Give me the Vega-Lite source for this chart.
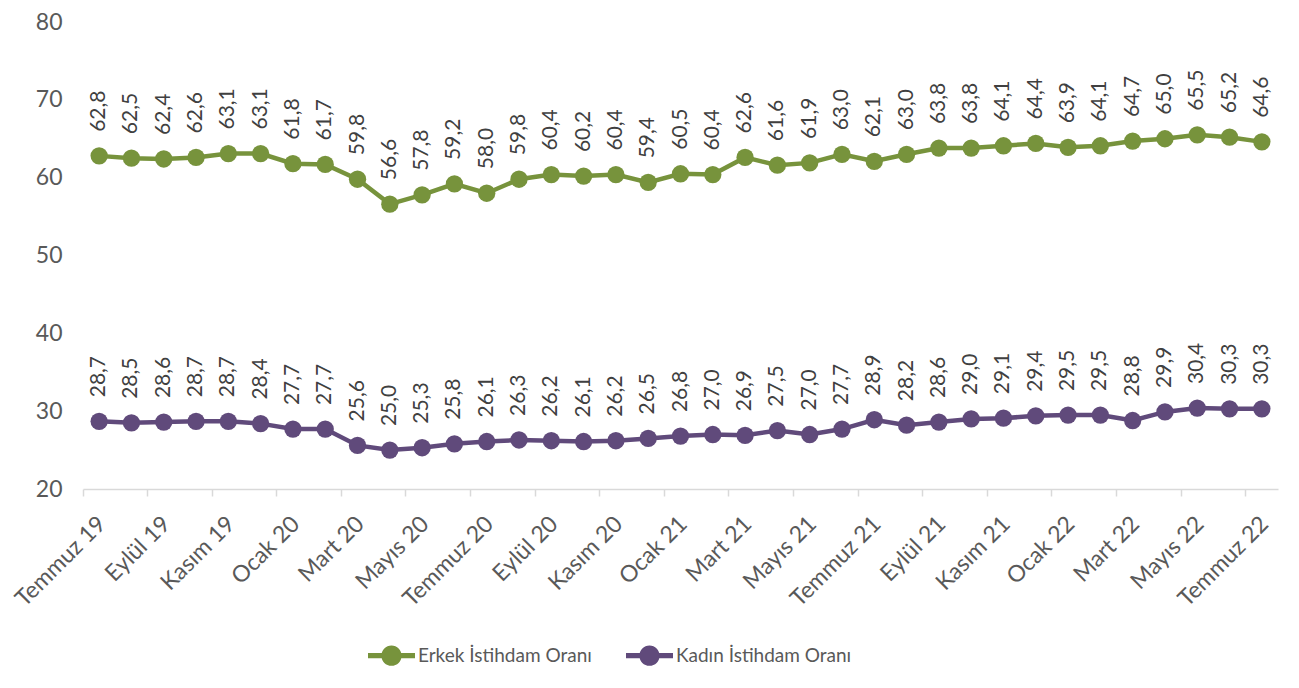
{
  "$schema": "https://vega.github.io/schema/vega-lite/v6.json",
  "width": 1195,
  "height": 467,
  "autosize": {"type": "none"},
  "padding": {"left": 83, "top": 22, "right": 21, "bottom": 199},
  "background": "white",
  "config": {
    "view": {"stroke": null},
    "font": "Lato",
    "locale": {"number": {"decimal": ",", "thousands": ".", "grouping": [3], "currency": ["", " TL"]}}
  },
  "datasets": {
    "rows": [
      {"ay": "Temmuz 19", "seri": "Erkek İstihdam Oranı", "oran": 62.8},
      {"ay": "Ağustos 19", "seri": "Erkek İstihdam Oranı", "oran": 62.5},
      {"ay": "Eylül 19", "seri": "Erkek İstihdam Oranı", "oran": 62.4},
      {"ay": "Ekim 19", "seri": "Erkek İstihdam Oranı", "oran": 62.6},
      {"ay": "Kasım 19", "seri": "Erkek İstihdam Oranı", "oran": 63.1},
      {"ay": "Aralık 19", "seri": "Erkek İstihdam Oranı", "oran": 63.1},
      {"ay": "Ocak 20", "seri": "Erkek İstihdam Oranı", "oran": 61.8},
      {"ay": "Şubat 20", "seri": "Erkek İstihdam Oranı", "oran": 61.7},
      {"ay": "Mart 20", "seri": "Erkek İstihdam Oranı", "oran": 59.8},
      {"ay": "Nisan 20", "seri": "Erkek İstihdam Oranı", "oran": 56.6},
      {"ay": "Mayıs 20", "seri": "Erkek İstihdam Oranı", "oran": 57.8},
      {"ay": "Haziran 20", "seri": "Erkek İstihdam Oranı", "oran": 59.2},
      {"ay": "Temmuz 20", "seri": "Erkek İstihdam Oranı", "oran": 58.0},
      {"ay": "Ağustos 20", "seri": "Erkek İstihdam Oranı", "oran": 59.8},
      {"ay": "Eylül 20", "seri": "Erkek İstihdam Oranı", "oran": 60.4},
      {"ay": "Ekim 20", "seri": "Erkek İstihdam Oranı", "oran": 60.2},
      {"ay": "Kasım 20", "seri": "Erkek İstihdam Oranı", "oran": 60.4},
      {"ay": "Aralık 20", "seri": "Erkek İstihdam Oranı", "oran": 59.4},
      {"ay": "Ocak 21", "seri": "Erkek İstihdam Oranı", "oran": 60.5},
      {"ay": "Şubat 21", "seri": "Erkek İstihdam Oranı", "oran": 60.4},
      {"ay": "Mart 21", "seri": "Erkek İstihdam Oranı", "oran": 62.6},
      {"ay": "Nisan 21", "seri": "Erkek İstihdam Oranı", "oran": 61.6},
      {"ay": "Mayıs 21", "seri": "Erkek İstihdam Oranı", "oran": 61.9},
      {"ay": "Haziran 21", "seri": "Erkek İstihdam Oranı", "oran": 63.0},
      {"ay": "Temmuz 21", "seri": "Erkek İstihdam Oranı", "oran": 62.1},
      {"ay": "Ağustos 21", "seri": "Erkek İstihdam Oranı", "oran": 63.0},
      {"ay": "Eylül 21", "seri": "Erkek İstihdam Oranı", "oran": 63.8},
      {"ay": "Ekim 21", "seri": "Erkek İstihdam Oranı", "oran": 63.8},
      {"ay": "Kasım 21", "seri": "Erkek İstihdam Oranı", "oran": 64.1},
      {"ay": "Aralık 21", "seri": "Erkek İstihdam Oranı", "oran": 64.4},
      {"ay": "Ocak 22", "seri": "Erkek İstihdam Oranı", "oran": 63.9},
      {"ay": "Şubat 22", "seri": "Erkek İstihdam Oranı", "oran": 64.1},
      {"ay": "Mart 22", "seri": "Erkek İstihdam Oranı", "oran": 64.7},
      {"ay": "Nisan 22", "seri": "Erkek İstihdam Oranı", "oran": 65.0},
      {"ay": "Mayıs 22", "seri": "Erkek İstihdam Oranı", "oran": 65.5},
      {"ay": "Haziran 22", "seri": "Erkek İstihdam Oranı", "oran": 65.2},
      {"ay": "Temmuz 22", "seri": "Erkek İstihdam Oranı", "oran": 64.6},
      {"ay": "Temmuz 19", "seri": "Kadın İstihdam Oranı", "oran": 28.7},
      {"ay": "Ağustos 19", "seri": "Kadın İstihdam Oranı", "oran": 28.5},
      {"ay": "Eylül 19", "seri": "Kadın İstihdam Oranı", "oran": 28.6},
      {"ay": "Ekim 19", "seri": "Kadın İstihdam Oranı", "oran": 28.7},
      {"ay": "Kasım 19", "seri": "Kadın İstihdam Oranı", "oran": 28.7},
      {"ay": "Aralık 19", "seri": "Kadın İstihdam Oranı", "oran": 28.4},
      {"ay": "Ocak 20", "seri": "Kadın İstihdam Oranı", "oran": 27.7},
      {"ay": "Şubat 20", "seri": "Kadın İstihdam Oranı", "oran": 27.7},
      {"ay": "Mart 20", "seri": "Kadın İstihdam Oranı", "oran": 25.6},
      {"ay": "Nisan 20", "seri": "Kadın İstihdam Oranı", "oran": 25.0},
      {"ay": "Mayıs 20", "seri": "Kadın İstihdam Oranı", "oran": 25.3},
      {"ay": "Haziran 20", "seri": "Kadın İstihdam Oranı", "oran": 25.8},
      {"ay": "Temmuz 20", "seri": "Kadın İstihdam Oranı", "oran": 26.1},
      {"ay": "Ağustos 20", "seri": "Kadın İstihdam Oranı", "oran": 26.3},
      {"ay": "Eylül 20", "seri": "Kadın İstihdam Oranı", "oran": 26.2},
      {"ay": "Ekim 20", "seri": "Kadın İstihdam Oranı", "oran": 26.1},
      {"ay": "Kasım 20", "seri": "Kadın İstihdam Oranı", "oran": 26.2},
      {"ay": "Aralık 20", "seri": "Kadın İstihdam Oranı", "oran": 26.5},
      {"ay": "Ocak 21", "seri": "Kadın İstihdam Oranı", "oran": 26.8},
      {"ay": "Şubat 21", "seri": "Kadın İstihdam Oranı", "oran": 27.0},
      {"ay": "Mart 21", "seri": "Kadın İstihdam Oranı", "oran": 26.9},
      {"ay": "Nisan 21", "seri": "Kadın İstihdam Oranı", "oran": 27.5},
      {"ay": "Mayıs 21", "seri": "Kadın İstihdam Oranı", "oran": 27.0},
      {"ay": "Haziran 21", "seri": "Kadın İstihdam Oranı", "oran": 27.7},
      {"ay": "Temmuz 21", "seri": "Kadın İstihdam Oranı", "oran": 28.9},
      {"ay": "Ağustos 21", "seri": "Kadın İstihdam Oranı", "oran": 28.2},
      {"ay": "Eylül 21", "seri": "Kadın İstihdam Oranı", "oran": 28.6},
      {"ay": "Ekim 21", "seri": "Kadın İstihdam Oranı", "oran": 29.0},
      {"ay": "Kasım 21", "seri": "Kadın İstihdam Oranı", "oran": 29.1},
      {"ay": "Aralık 21", "seri": "Kadın İstihdam Oranı", "oran": 29.4},
      {"ay": "Ocak 22", "seri": "Kadın İstihdam Oranı", "oran": 29.5},
      {"ay": "Şubat 22", "seri": "Kadın İstihdam Oranı", "oran": 29.5},
      {"ay": "Mart 22", "seri": "Kadın İstihdam Oranı", "oran": 28.8},
      {"ay": "Nisan 22", "seri": "Kadın İstihdam Oranı", "oran": 29.9},
      {"ay": "Mayıs 22", "seri": "Kadın İstihdam Oranı", "oran": 30.4},
      {"ay": "Haziran 22", "seri": "Kadın İstihdam Oranı", "oran": 30.3},
      {"ay": "Temmuz 22", "seri": "Kadın İstihdam Oranı", "oran": 30.3}
    ]
  },
  "data": {"name": "rows"},
  "encoding": {
    "x": {
      "field": "ay",
      "type": "ordinal",
      "sort": null,
      "scale": {"type": "band", "paddingInner": 0, "paddingOuter": 0},
      "axis": {
        "title": null,
        "values": ["Temmuz 19", "Eylül 19", "Kasım 19", "Ocak 20", "Mart 20", "Mayıs 20", "Temmuz 20", "Eylül 20", "Kasım 20", "Ocak 21", "Mart 21", "Mayıs 21", "Temmuz 21", "Eylül 21", "Kasım 21", "Ocak 22", "Mart 22", "Mayıs 22", "Temmuz 22"],
        "bandPosition": 0,
        "labelOffset": 3,
        "labelAngle": -45,
        "labelAlign": "right",
        "labelBaseline": "middle",
        "labelFont": "Lato",
        "labelFontSize": 23,
        "labelColor": "#595959",
        "labelPadding": 24,
        "labelOverlap": false,
        "tickSize": 7,
        "tickColor": "#D9D9D9",
        "tickWidth": 1.5,
        "domainColor": "#D9D9D9",
        "domainWidth": 1.5,
        "grid": false
      }
    },
    "y": {
      "field": "oran",
      "type": "quantitative",
      "scale": {"domain": [20, 80], "nice": false, "zero": false},
      "axis": {
        "title": null,
        "values": [20, 30, 40, 50, 60, 70, 80],
        "grid": false,
        "domain": false,
        "ticks": false,
        "labelFont": "Lato",
        "labelFontSize": 23,
        "labelColor": "#595959",
        "labelPadding": 21
      }
    }
  },
  "resolve": {"legend": {"color": "independent"}},
  "layer": [
    {
      "mark": {"type": "line", "strokeWidth": 4.5},
      "encoding": {"color": {"field": "seri", "type": "nominal", "legend": null, "scale": {"domain": ["Erkek İstihdam Oranı", "Kadın İstihdam Oranı"], "range": ["#77933C", "#604A7B"]}}}
    },
    {
      "mark": {"type": "point", "filled": true, "opacity": 1, "size": 300},
      "encoding": {
        "color": {
          "field": "seri",
          "type": "nominal",
          "scale": {"domain": ["Erkek İstihdam Oranı", "Kadın İstihdam Oranı"], "range": ["#77933C", "#604A7B"]},
          "legend": {
            "title": null,
            "orient": "none",
            "direction": "horizontal",
            "legendX": 285,
            "legendY": 610,
            "symbolType": "M-1,-0.11H1V0.11H-1Z M-0.43,0 A0.43,0.43 0 1,1 0.43,0 A0.43,0.43 0 1,1 -0.43,0 Z",
            "symbolSize": 2209,
            "symbolStrokeWidth": 0,
            "symbolOpacity": 1,
            "labelFont": "Lato",
            "labelFontSize": 19,
            "labelLimit": 500,
            "labelColor": "#595959",
            "labelOffset": 3,
            "columnPadding": 34
          }
        }
      }
    },
    {
      "mark": {"type": "text", "angle": 270, "align": "left", "baseline": "middle", "radius": 24, "theta": 0, "font": "Lato", "fontSize": 21, "color": "#404040"},
      "encoding": {
        "text": {"field": "oran", "type": "quantitative", "format": ".1f"},
        "color": {"value": "#404040"}
      }
    }
  ]
}
